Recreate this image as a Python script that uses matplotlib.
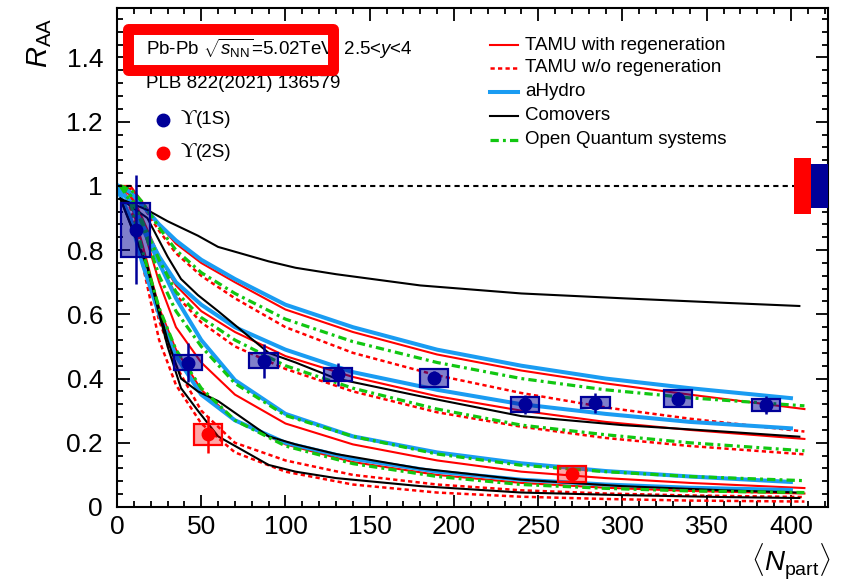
import matplotlib
matplotlib.use('Agg')
import matplotlib.pyplot as plt
from matplotlib.patches import Rectangle
from matplotlib.ticker import MultipleLocator, FuncFormatter

plt.rcParams['font.family'] = ['Liberation Sans', 'DejaVu Sans']
plt.rcParams['mathtext.fontset'] = 'custom'
plt.rcParams['mathtext.rm'] = 'Liberation Sans'
plt.rcParams['mathtext.it'] = 'Liberation Sans:italic'
plt.rcParams['mathtext.bf'] = 'Liberation Sans:bold'

# --- measured points -------------------------------------------------------
npart_1s = [11, 42, 87, 131, 188, 242, 284, 333, 385]
raa_1s = [0.863, 0.450, 0.456, 0.413, 0.403, 0.320, 0.325, 0.337, 0.318]
stat_1s = [0.17, 0.060, 0.053, 0.037, 0.020, 0.030, 0.031, 0.020, 0.028]
syst_1s = [0.083, 0.023, 0.024, 0.020, 0.028, 0.023, 0.018, 0.027, 0.018]

npart_2s = [54, 270]
raa_2s = [0.226, 0.103]
stat_2s = [0.057, 0.015]
syst_2s = [0.033, 0.026]

glob_1s = 0.069
glob_2s = 0.086

# --- model curves ------------------------------------------------------------
x_tamu = [2, 8, 15, 25, 35, 50, 70, 100, 140, 190, 240, 290, 340, 408]
tamu_reg_1s_hi = [1.0, 1.0, 0.95, 0.88, 0.82, 0.76, 0.70, 0.615, 0.545, 0.475, 0.425, 0.385, 0.35, 0.305]
tamu_reg_1s_lo = [1.0, 0.98, 0.90, 0.78, 0.69, 0.61, 0.545, 0.47, 0.405, 0.345, 0.30, 0.265, 0.24, 0.212]
tamu_reg_2s_hi = [1.0, 0.97, 0.88, 0.70, 0.56, 0.45, 0.35, 0.26, 0.195, 0.145, 0.11, 0.09, 0.075, 0.059]
tamu_reg_2s_lo = [1.0, 0.95, 0.82, 0.62, 0.49, 0.365, 0.27, 0.195, 0.14, 0.10, 0.075, 0.06, 0.05, 0.042]
tamu_noreg_1s_hi = [1.0, 0.99, 0.94, 0.86, 0.79, 0.72, 0.65, 0.56, 0.48, 0.41, 0.355, 0.31, 0.275, 0.235]
tamu_noreg_1s_lo = [1.0, 0.97, 0.88, 0.76, 0.66, 0.575, 0.50, 0.43, 0.36, 0.295, 0.25, 0.215, 0.19, 0.164]
tamu_noreg_2s_hi = [1.0, 0.94, 0.80, 0.58, 0.44, 0.30, 0.20, 0.145, 0.10, 0.07, 0.052, 0.042, 0.036, 0.031]
tamu_noreg_2s_lo = [1.0, 0.93, 0.76, 0.52, 0.38, 0.26, 0.17, 0.11, 0.07, 0.045, 0.032, 0.025, 0.02, 0.017]

x_ahydro = [1, 8, 15, 25, 35, 50, 70, 100, 140, 190, 240, 290, 340, 400]
ahydro_1s_hi = [1.0, 0.98, 0.94, 0.88, 0.83, 0.77, 0.71, 0.63, 0.56, 0.49, 0.44, 0.40, 0.37, 0.339]
ahydro_1s_lo = [0.99, 0.95, 0.88, 0.78, 0.70, 0.63, 0.56, 0.49, 0.42, 0.365, 0.32, 0.29, 0.265, 0.245]
ahydro_2s_hi = [0.99, 0.95, 0.87, 0.76, 0.65, 0.52, 0.395, 0.29, 0.22, 0.17, 0.136, 0.112, 0.095, 0.078]
ahydro_2s_lo = [0.98, 0.90, 0.76, 0.60, 0.47, 0.35, 0.27, 0.20, 0.15, 0.11, 0.085, 0.07, 0.06, 0.053]

x_como = [2, 18, 30, 38, 48, 60, 90, 106, 130, 180, 240, 300, 360, 405]
como_1s_hi = [0.96, 0.925, 0.89, 0.87, 0.845, 0.81, 0.765, 0.745, 0.725, 0.69, 0.665, 0.65, 0.636, 0.626]
como_1s_lo = [0.96, 0.90, 0.78, 0.71, 0.66, 0.61, 0.48, 0.45, 0.40, 0.345, 0.283, 0.255, 0.235, 0.219]
como_2s_hi = [0.96, 0.75, 0.52, 0.40, 0.36, 0.33, 0.22, 0.195, 0.165, 0.12, 0.085, 0.065, 0.052, 0.045]
como_2s_lo = [0.96, 0.745, 0.50, 0.37, 0.30, 0.22, 0.131, 0.11, 0.09, 0.065, 0.045, 0.037, 0.031, 0.028]

x_oqs = x_tamu
oqs_1s_hi = [1.0, 0.99, 0.95, 0.87, 0.80, 0.73, 0.665, 0.585, 0.515, 0.45, 0.40, 0.365, 0.34, 0.315]
oqs_1s_lo = [1.0, 0.97, 0.89, 0.77, 0.67, 0.59, 0.52, 0.44, 0.37, 0.305, 0.255, 0.225, 0.20, 0.175]
oqs_2s_hi = [1.0, 0.97, 0.88, 0.72, 0.61, 0.50, 0.385, 0.285, 0.22, 0.165, 0.13, 0.11, 0.095, 0.082]
oqs_2s_lo = [1.0, 0.95, 0.80, 0.62, 0.49, 0.37, 0.27, 0.19, 0.135, 0.095, 0.07, 0.058, 0.05, 0.045]

RED = '#ff0000'
NAVY = '#000099'
AZURE = '#1a9cf2'
GREEN = '#11c711'

styles = {
    'TAMU with regeneration': dict(color=RED, lw=1.5),
    'TAMU w/o regeneration': dict(color=RED, lw=1.8, dashes=(1.7, 1.3)),
    'aHydro': dict(color=AZURE, lw=2.9),
    'Comovers': dict(color='black', lw=1.5),
    'Open Quantum systems': dict(color=GREEN, lw=2.3, dashes=(2.6, 1.3, 0.9, 1.3)),
}
curves = [
    ('TAMU with regeneration', x_tamu, [tamu_reg_1s_hi, tamu_reg_1s_lo, tamu_reg_2s_hi, tamu_reg_2s_lo]),
    ('TAMU w/o regeneration', x_tamu, [tamu_noreg_1s_hi, tamu_noreg_1s_lo, tamu_noreg_2s_hi, tamu_noreg_2s_lo]),
    ('aHydro', x_ahydro, [ahydro_1s_hi, ahydro_1s_lo, ahydro_2s_hi, ahydro_2s_lo]),
    ('Comovers', x_como, [como_1s_hi, como_1s_lo, como_2s_hi, como_2s_lo]),
    ('Open Quantum systems', x_oqs, [oqs_1s_hi, oqs_1s_lo, oqs_2s_hi, oqs_2s_lo]),
]

W, H = 849, 584
fig = plt.figure(figsize=(W / 100, H / 100), dpi=100)
ax = fig.add_axes([117 / W, 1 - 507 / H, (828 - 117) / W, (507 - 8) / H])


def fx(px):
    return px / W


def fy(py):
    return 1 - py / H


for name, xs, ys in curves:
    for y in ys:
        ax.plot(xs, y, zorder=2, **styles[name])

ax.axhline(1.0, color='black', lw=1.5, dashes=(2.5, 2.0), zorder=3)

# global uncertainties
ax.add_patch(Rectangle((402, 1 - glob_2s), 10, 2 * glob_2s, fc=RED, ec='none', zorder=4))
ax.add_patch(Rectangle((412, 1 - glob_1s), 10, 2 * glob_1s, fc=NAVY, ec='none', zorder=4))

BOX_HW = 8.4
for x, y, s in zip(npart_1s, raa_1s, syst_1s):
    ax.add_patch(Rectangle((x - BOX_HW, y - s), 2 * BOX_HW, 2 * s,
                           fc=(0, 0, 0.6, 0.5), ec=NAVY, lw=1.6, zorder=5))
for x, y, s in zip(npart_2s, raa_2s, syst_2s):
    ax.add_patch(Rectangle((x - BOX_HW, y - s), 2 * BOX_HW, 2 * s,
                           fc=(1, 0, 0, 0.35), ec=RED, lw=1.6, zorder=5))
ax.errorbar(npart_1s, raa_1s, yerr=stat_1s, fmt='o', color=NAVY, ms=9,
            elinewidth=1.8, capsize=0, zorder=6)
ax.errorbar(npart_2s, raa_2s, yerr=stat_2s, fmt='o', color=RED, ms=9,
            elinewidth=1.8, capsize=0, zorder=6)

ax.set_xlim(0, 422)
ax.set_ylim(0, 1.554)
ax.xaxis.set_major_locator(MultipleLocator(50))
ax.xaxis.set_minor_locator(MultipleLocator(10))
ax.yaxis.set_major_locator(MultipleLocator(0.2))
ax.yaxis.set_minor_locator(MultipleLocator(0.04))
ax.yaxis.set_major_formatter(FuncFormatter(lambda v, p: f'{v:g}'))
ax.tick_params(which='both', direction='in', top=True, right=True, width=1.3)
ax.tick_params(which='major', length=9, labelsize=19)
ax.tick_params(which='minor', length=4.5)
ax.tick_params(axis='y', pad=10)
ax.tick_params(axis='x', pad=6)
for sp in ax.spines.values():
    sp.set_linewidth(1.5)

fig.text(fx(40), fy(18), r'$R_{\rm AA}$', rotation=90, ha='center', va='top', fontsize=21)
fig.text(fx(831), fy(562), r'$\langle N_{\rm part}\rangle$', ha='right', va='center', fontsize=20)

# header text + red frame
fig.text(fx(146), fy(49), r'Pb-Pb $\sqrt{s_{\rm NN}}$=5.02TeV, 2.5<$y$<4', ha='left', va='center', fontsize=13.5)
fig.text(fx(146), fy(83), 'PLB 822(2021) 136579', ha='left', va='center', fontsize=13.5)
frame = Rectangle((128.2 / 100, (H - 69.5) / 100), (332.8 - 128.2) / 100, 40 / 100,
                  transform=fig.dpi_scale_trans, fc='none', ec=RED, lw=7.9,
                  joinstyle='round', zorder=10)
fig.add_artist(frame)

# state markers
for py, col, lab in [(119.5, NAVY, '(1S)'), (152.5, RED, '(2S)')]:
    fig.add_artist(plt.Line2D([fx(163.3)], [fy(py)], marker='o', ms=9, color=col,
                              transform=fig.transFigure))
    fig.text(fx(181), fy(py), '\u03d2', ha='left', va='center', fontsize=15.5,
             family=['Liberation Serif', 'DejaVu Serif'])
    fig.text(fx(196), fy(py), lab, ha='left', va='center', fontsize=13.5)

# model legend
legend_rows = [45, 68, 92, 116, 140]
for py, (name, _, _) in zip(legend_rows, curves):
    fig.add_artist(plt.Line2D([fx(490), fx(518)], [fy(py), fy(py)],
                              transform=fig.transFigure, **styles[name]))
    fig.text(fx(525), fy(py), name, ha='left', va='center', fontsize=13.5)

fig.savefig('out.png', dpi=100)
